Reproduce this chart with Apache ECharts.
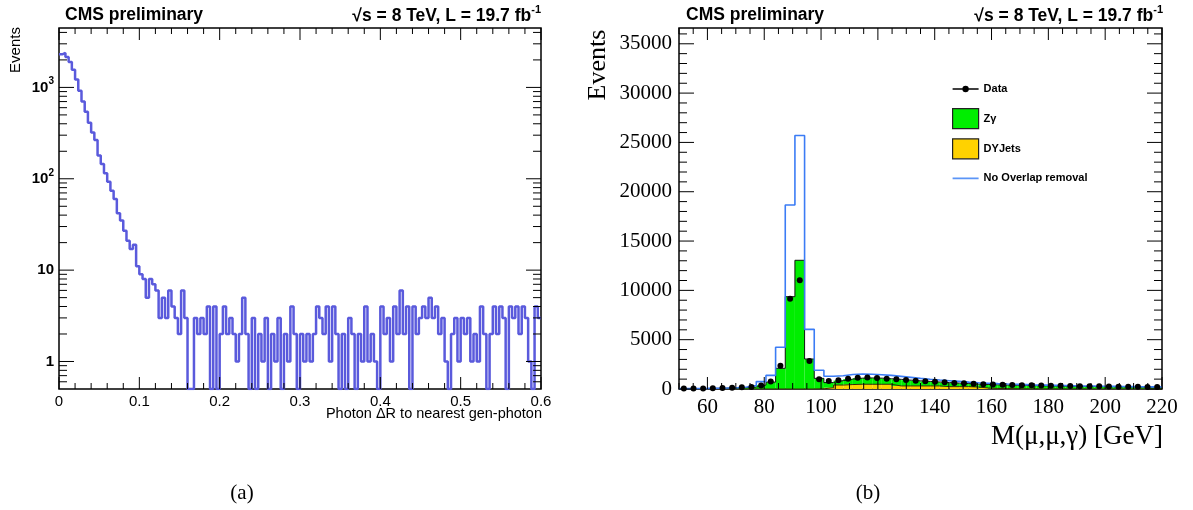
<!DOCTYPE html>
<html>
<head>
<meta charset="utf-8">
<script src="https://cdn.jsdelivr.net/npm/echarts@6/dist/echarts.min.js"></script>
<style>
html, body { margin: 0; padding: 0; background: #fff; }
#chart { width: 1193px; height: 510px; }
</style>
</head>
<body>
<div id="chart"></div>
<script>
// (a) photon dR to nearest gen-photon, 150 bins of 0.004
var drBinWidth = 0.004;
var drCounts = [
  2300, 2380, 2150, 1900, 1560, 1220, 920, 700, 540, 410,
  320, 265, 180, 145, 115, 93, 74, 60, 42, 35,
  27, 21, 17, 19, 11, 9, 8, 5, 8, 7,
  6, 3, 5, 3, 6, 4, 3, 2, 6, 3,
  0, 0, 3, 2, 3, 2, 4, 0, 4, 0,
  2, 4, 2, 3, 2, 1, 2, 5, 2, 0,
  3, 0, 2, 1, 3, 0, 2, 1, 3, 0,
  2, 1, 4, 2, 0, 2, 1, 2, 1, 2,
  4, 3, 2, 4, 1, 4, 2, 0, 2, 0,
  3, 2, 0, 2, 1, 4, 1, 2, 1, 0,
  4, 2, 3, 1, 4, 2, 6, 2, 4, 0,
  4, 2, 3, 4, 3, 5, 3, 4, 2, 3,
  1, 0, 2, 3, 1, 3, 2, 3, 1, 2,
  1, 4, 2, 0, 2, 4, 2, 4, 3, 0,
  4, 3, 4, 2, 4, 3, 1, 0, 4, 3
];
var drXLabels = [0, 0.1, 0.2, 0.3, 0.4, 0.5, 0.6];
var drYLabels = [1, 10, 100, 1000];

// (b) M(mu,mu,gamma), 50 bins of 3.4 GeV starting at 50
var massStart = 50;
var massBinWidth = 3.4;
var massData = [
  40, 50, 60, 80, 100, 130, 170, 200, 360, 750,
  2350, 9160, 11020, 2830, 980, 800, 880, 1050, 1150, 1160,
  1120, 1050, 990, 920, 830, 780, 740, 680, 620, 580,
  530, 490, 460, 430, 410, 390, 370, 350, 340, 320,
  310, 290, 280, 270, 250, 240, 230, 220, 210, 200
];
var massZgamma = [
  30, 40, 50, 70, 90, 110, 150, 200, 400, 700,
  2100, 9360, 13050, 3040, 1060, 520, 450, 550, 620, 640,
  620, 560, 670, 590, 520, 460, 400, 410, 360, 310,
  300, 360, 370, 360, 350, 340, 320, 305, 295, 280,
  270, 250, 245, 235, 225, 215, 205, 195, 185, 175
];
var massDYJets = [
  0, 0, 0, 0, 0, 0, 0, 0, 0, 0,
  0, 0, 0, 0, 20, 130, 400, 450, 480, 480,
  480, 480, 310, 310, 310, 310, 310, 240, 240, 240,
  200, 100, 60, 40, 30, 20, 20, 15, 15, 10,
  10, 10, 5, 5, 5, 5, 5, 5, 5, 5
];
var massNoOverlap = [
  40, 50, 60, 80, 100, 130, 200, 340, 750, 1380,
  4230, 18660, 25700, 6050, 1900, 1300, 1350, 1470, 1520, 1500,
  1450, 1380, 1280, 1180, 1080, 990, 910, 840, 770, 700,
  640, 590, 540, 500, 470, 440, 410, 390, 370, 350,
  330, 310, 300, 280, 270, 250, 240, 230, 220, 210
];
var massXLabels = [60, 80, 100, 120, 140, 160, 180, 200, 220];
var massYLabels = [0, 5000, 10000, 15000, 20000, 25000, 30000, 35000];

var SANS = '"Liberation Sans", Arial, sans-serif';
var SERIF = '"Liberation Serif", "Times New Roman", serif';
var DR_YMIN = 0.5, DR_YMAX = 4470;
var M_XMIN = 50, M_XMAX = 220, M_YMAX = 36600;

// minor tick positions
var drXMinor = [];
for (var i = 1; i < 30; i++) if (i % 5) drXMinor.push(+(i * 0.02).toFixed(2));
var drYMinor = [0.6, 0.7, 0.8, 0.9];
[1, 10, 100, 1000].forEach(function (d) {
  for (var m = 2; m <= 9; m++) if (m * d < DR_YMAX) drYMinor.push(m * d);
});
var mXMinor = [];
for (var x = 50; x <= 220; x += 5) if (massXLabels.indexOf(x) < 0) mXMinor.push(x);
var mYMinor = [];
for (var y = 1000; y < M_YMAX; y += 1000) if (y % 5000) mYMinor.push(y);

function stepPoints(values, start, width, floor) {
  var pts = values.map(function (v, k) {
    return [start + k * width, floor != null ? Math.max(v, floor) : v];
  });
  pts.push([start + values.length * width, pts[pts.length - 1][1]]);
  return pts;
}

function tickSeries(gi, dir, values, len, ref) {
  return {
    type: 'custom', xAxisIndex: gi, yAxisIndex: gi, silent: true, clip: false, z: 6,
    data: values.map(function (v) { return dir === 'x' ? [v, ref] : [ref, v]; }),
    renderItem: function (params, api) {
      var cs = params.coordSys;
      var p = api.coord([api.value(0), api.value(1)]);
      var segs = dir === 'x'
        ? [[p[0], cs.y + cs.height, p[0], cs.y + cs.height - len], [p[0], cs.y, p[0], cs.y + len]]
        : [[cs.x, p[1], cs.x + len, p[1]], [cs.x + cs.width, p[1], cs.x + cs.width - len, p[1]]];
      return {
        type: 'group',
        children: segs.map(function (s) {
          return { type: 'line', shape: { x1: s[0], y1: s[1], x2: s[2], y2: s[3] }, style: { stroke: '#000', lineWidth: 1 } };
        })
      };
    }
  };
}

function histRects(name, base, values, color) {
  return {
    name: name, type: 'custom', xAxisIndex: 1, yAxisIndex: 1, clip: true, z: 2,
    itemStyle: { color: color },
    data: values.map(function (v, k) {
      var lo = massStart + k * massBinWidth;
      return [lo, lo + massBinWidth, base[k], base[k] + v];
    }),
    encode: { x: [0, 1], y: [2, 3] },
    renderItem: function (params, api) {
      var a = api.coord([api.value(0), api.value(3)]);
      var b = api.coord([api.value(1), api.value(2)]);
      return { type: 'rect', shape: { x: a[0], y: a[1], width: b[0] - a[0], height: b[1] - a[1] }, style: { fill: api.visual('color') } };
    }
  };
}

var zeros = massDYJets.map(function () { return 0; });
var massTotal = massZgamma.map(function (v, k) { return v + massDYJets[k]; });
var massCenters = massData.map(function (v, k) { return [massStart + (k + 0.5) * massBinWidth, v]; });

var supRich = { sup: { fontSize: 10, fontWeight: 'bold', fontFamily: SANS, verticalAlign: 'top' } };
// legend icons: a line with a dot, and a plain line (bounds padded to 26x20)
var ICON_DATA = 'path://M0,0L0.01,0Z M26,20L25.99,20Z M0,9.3H26V10.7H0Z M16.2,10A3.2,3.2,0,1,1,9.8,10A3.2,3.2,0,1,1,16.2,10Z';
var ICON_LINE = 'path://M0,0L0.01,0Z M26,20L25.99,20Z M0,9.2H26V10.8H0Z';

var chart = echarts.init(document.getElementById('chart'));
chart.setOption({
  animation: false,
  backgroundColor: '#fff',
  grid: [
    { left: 59, top: 28, width: 482, height: 361, show: true, borderColor: '#000', borderWidth: 1.5, backgroundColor: 'transparent' },
    { left: 679, top: 28, width: 483, height: 361, show: true, borderColor: '#000', borderWidth: 1.5, backgroundColor: 'transparent' }
  ],
  xAxis: [
    {
      type: 'value', gridIndex: 0, min: 0, max: 0.6,
      axisLine: { show: false }, axisTick: { show: false }, splitLine: { show: false },
      axisLabel: { customValues: drXLabels, margin: 5, color: '#000', fontFamily: SANS, fontSize: 15,
        formatter: function (v) { return String(v); } }
    },
    {
      type: 'value', gridIndex: 1, min: M_XMIN, max: M_XMAX,
      axisLine: { show: false }, axisTick: { show: false }, splitLine: { show: false },
      axisLabel: { customValues: massXLabels, margin: 8, color: '#000', fontFamily: SERIF, fontSize: 21,
        formatter: function (v) { return String(v); } }
    }
  ],
  yAxis: [
    {
      type: 'log', logBase: 10, gridIndex: 0, min: DR_YMIN, max: DR_YMAX,
      axisLine: { show: false }, axisTick: { show: false }, splitLine: { show: false },
      axisLabel: { customValues: drYLabels, margin: 5, color: '#000', fontFamily: SANS, fontSize: 15,
        fontWeight: 'bold', lineHeight: 22, rich: supRich,
        formatter: function (v) {
          if (v < 5) return '1';
          if (v < 50) return '10';
          return '10{sup|' + Math.round(Math.log(v) / Math.LN10) + '}';
        } }
    },
    {
      type: 'value', gridIndex: 1, min: 0, max: M_YMAX,
      axisLine: { show: false }, axisTick: { show: false }, splitLine: { show: false },
      axisLabel: { customValues: massYLabels, margin: 7, color: '#000', fontFamily: SERIF, fontSize: 21,
        formatter: function (v) { return String(v); } }
    }
  ],
  legend: {
    left: 952, top: 79, padding: 0, orient: 'vertical', itemWidth: 26, itemHeight: 20, itemGap: 9,
    selectedMode: false,
    textStyle: { fontFamily: SANS, fontSize: 11, fontWeight: 'bold', color: '#000' },
    data: [
      { name: 'Data', icon: ICON_DATA, itemStyle: { color: '#000' } },
      { name: 'Zγ', icon: 'rect', itemStyle: { borderColor: '#222', borderWidth: 1.2 } },
      { name: 'DYJets', icon: 'rect', itemStyle: { borderColor: '#222', borderWidth: 1.2 } },
      { name: 'No Overlap removal', icon: ICON_LINE, itemStyle: { color: '#5b95f7' } }
    ]
  },
  series: [
    {
      type: 'line', xAxisIndex: 0, yAxisIndex: 0, step: 'end', symbol: 'none', clip: true, z: 3,
      lineStyle: { color: '#5a5adc', width: 2.5 },
      data: stepPoints(drCounts, 0, drBinWidth, DR_YMIN)
    },
    histRects('DYJets', zeros, massDYJets, '#ffd200'),
    histRects('Zγ', massDYJets, massZgamma, '#00ee00'),
    {
      type: 'line', xAxisIndex: 1, yAxisIndex: 1, step: 'end', symbol: 'none', clip: true, z: 3,
      lineStyle: { color: '#3a2a00', width: 1 },
      data: stepPoints(massDYJets, massStart, massBinWidth)
    },
    {
      type: 'line', xAxisIndex: 1, yAxisIndex: 1, step: 'end', symbol: 'none', clip: true, z: 3,
      lineStyle: { color: '#111', width: 1 },
      data: stepPoints(massTotal, massStart, massBinWidth)
    },
    {
      name: 'No Overlap removal', type: 'line', xAxisIndex: 1, yAxisIndex: 1, step: 'end', symbol: 'none',
      clip: true, z: 4, itemStyle: { color: '#3b7cf5' },
      lineStyle: { color: '#3b7cf5', width: 1.6 },
      data: stepPoints(massNoOverlap, massStart, massBinWidth)
    },
    {
      name: 'Data', type: 'line', xAxisIndex: 1, yAxisIndex: 1, symbol: 'circle', symbolSize: 6,
      showAllSymbol: true, clip: true, z: 5,
      itemStyle: { color: '#000' }, lineStyle: { color: '#000', width: 1.5, opacity: 0 },
      data: massCenters
    },
    tickSeries(0, 'x', drXLabels, 12, 1),
    tickSeries(0, 'x', drXMinor, 6, 1),
    tickSeries(0, 'y', drYLabels, 15, 0.3),
    tickSeries(0, 'y', drYMinor, 8, 0.3),
    tickSeries(1, 'x', massXLabels, 12, 1000),
    tickSeries(1, 'x', mXMinor, 6, 1000),
    tickSeries(1, 'y', massYLabels, 15, 100),
    tickSeries(1, 'y', mYMinor, 8, 100)
  ],
  graphic: [
    { type: 'text', x: 65, y: 6, style: { text: 'CMS preliminary', fontFamily: SANS, fontWeight: 'bold', fontSize: 17.5, fill: '#000' } },
    { type: 'text', x: 541, y: 4, style: { text: '√s = 8 TeV, L = 19.7 fb{sup|-1}', align: 'right', fontFamily: SANS, fontWeight: 'bold',
        fontSize: 17.5, lineHeight: 24, fill: '#000', rich: { sup: { fontSize: 11, fontWeight: 'bold', fontFamily: SANS, verticalAlign: 'top' } } } },
    { type: 'text', x: 686, y: 6, style: { text: 'CMS preliminary', fontFamily: SANS, fontWeight: 'bold', fontSize: 17.5, fill: '#000' } },
    { type: 'text', x: 1163, y: 4, style: { text: '√s = 8 TeV, L = 19.7 fb{sup|-1}', align: 'right', fontFamily: SANS, fontWeight: 'bold',
        fontSize: 17.5, lineHeight: 24, fill: '#000', rich: { sup: { fontSize: 11, fontWeight: 'bold', fontFamily: SANS, verticalAlign: 'top' } } } },
    { type: 'text', x: 16, y: 50, rotation: Math.PI / 2, style: { text: 'Events', align: 'center', verticalAlign: 'middle', fontFamily: SANS, fontSize: 15, fill: '#000' } },
    { type: 'text', x: 542, y: 414, style: { text: 'Photon ΔR to nearest gen-photon', align: 'right', verticalAlign: 'middle', fontFamily: SANS, fontSize: 14.5, fill: '#000' } },
    { type: 'text', x: 598, y: 65, rotation: Math.PI / 2, style: { text: 'Events', align: 'center', verticalAlign: 'middle', fontFamily: SERIF, fontSize: 26, fill: '#000' } },
    { type: 'text', x: 1163, y: 437, style: { text: 'M(μ,μ,γ) [GeV]', align: 'right', verticalAlign: 'middle', fontFamily: SERIF, fontSize: 27, fill: '#000' } },
    { type: 'text', x: 242, y: 493, style: { text: '(a)', align: 'center', verticalAlign: 'middle', fontFamily: SERIF, fontSize: 21, fill: '#000' } },
    { type: 'text', x: 868, y: 493, style: { text: '(b)', align: 'center', verticalAlign: 'middle', fontFamily: SERIF, fontSize: 21, fill: '#000' } }
  ]
});
</script>
</body>
</html>
